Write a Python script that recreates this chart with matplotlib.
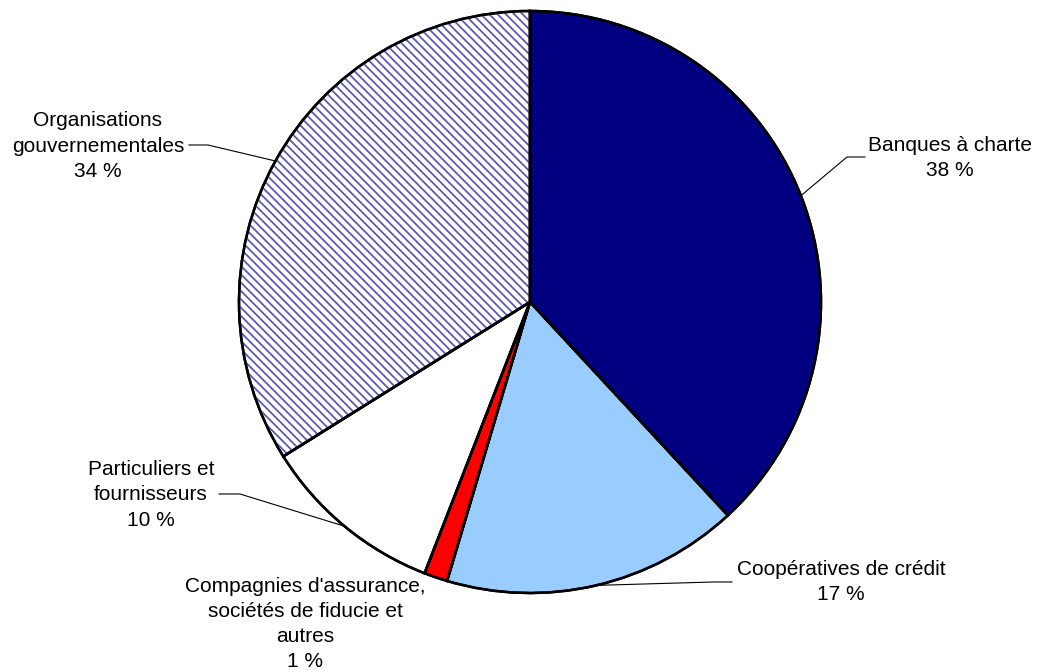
import matplotlib
matplotlib.use("Agg")
import matplotlib.pyplot as plt
import numpy as np
from matplotlib.patches import Wedge

categories = ["Banques à charte", "Coopératives de crédit",
              "Compagnies d'assurance,\nsociétés de fiducie et\nautres",
              "Particuliers et\nfournisseurs", "Organisations\ngouvernementales"]
values = [38.1, 16.5, 1.3, 10.2, 33.9]
pct_labels = ["38 %", "17 %", "1 %", "10 %", "34 %"]
colors = ["#000080", "#99ccff", "#ff0000", "#ffffff", "#ffffff"]

plt.rcParams['font.family'] = ['Liberation Sans', 'DejaVu Sans']
plt.rcParams['hatch.linewidth'] = 1.3

W, H = 1038, 672
fig = plt.figure(figsize=(W / 100, H / 100), dpi=100)
ax = fig.add_axes([0, 0, 1, 1])

cx, cy, R = 530, 302, 291
LW = 1.8
wedges, _ = ax.pie(values, colors=colors, startangle=-90, counterclock=True,
                   center=(cx, cy), radius=R,
                   wedgeprops=dict(edgecolor="black", linewidth=LW))
ax.set_xlim(0, W)
ax.set_ylim(H, 0)
ax.set_aspect('equal')
ax.set_axis_off()

# hatch for Organisations gouvernementales
w = wedges[4]
hw = Wedge((cx, cy), R, w.theta1, w.theta2, facecolor="none",
           edgecolor="#5a5ab4", hatch="\\\\\\\\", linewidth=0, zorder=w.get_zorder() + 0.1)
ax.add_patch(hw)
# redraw edges on top
for wd in wedges:
    e = Wedge((cx, cy), R, wd.theta1, wd.theta2, facecolor="none",
              edgecolor="black", linewidth=LW, zorder=w.get_zorder() + 0.3)
    ax.add_patch(e)

# label layout: text center, elbow points (pixels)
layout = [
    dict(txt=(950, 158), elbow=[(847, 157), (865, 157)]),
    dict(txt=(841, 582), elbow=[(713, 582), (732, 582)]),
    dict(txt=(305, 624), elbow=None),
    dict(txt=(151, 495), elbow=[(240, 494), (219, 494)]),
    dict(txt=(98, 146), elbow=[(208, 145), (189, 145)]),
]

for wd, cat, pl, lay in zip(wedges, categories, pct_labels, layout):
    ax.text(lay["txt"][0], lay["txt"][1], cat + "\n" + pl, ha="center", va="center",
            multialignment="center", fontsize=15, linespacing=1.42, color="black")
    if lay["elbow"] is not None:
        mid = np.deg2rad((wd.theta1 + wd.theta2) / 2)
        p0 = (cx + R * np.cos(mid), cy + R * np.sin(mid))
        xs = [p0[0]] + [p[0] for p in lay["elbow"]]
        ys = [p0[1]] + [p[1] for p in lay["elbow"]]
        ax.plot(xs, ys, color="black", linewidth=0.8, zorder=1)

fig.savefig("out.png", dpi=100)
